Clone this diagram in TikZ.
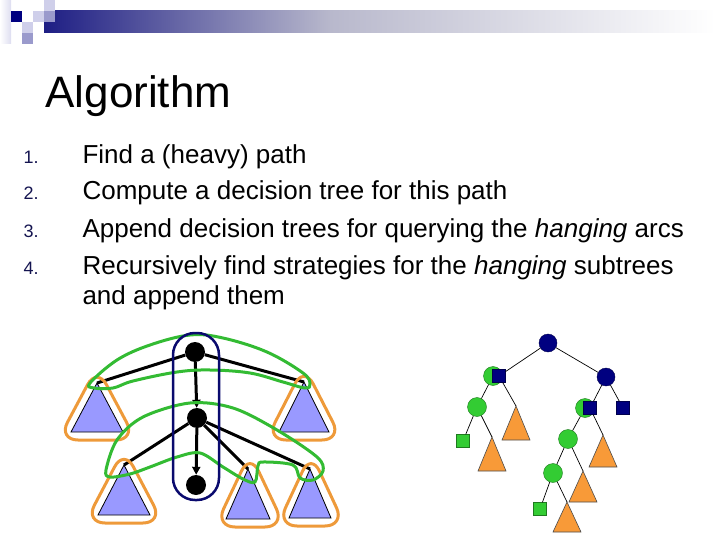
\documentclass[tikz,border=0pt]{standalone}
\usepackage{fontspec}
\setmainfont{Liberation Sans}
\usetikzlibrary{arrows.meta,shapes.geometric,calc}

\definecolor{hdnavy}{HTML}{1E1E84}
\definecolor{hdmid}{HTML}{B8B8CC}
\definecolor{sqnavy}{HTML}{000080}
\definecolor{sqlight}{HTML}{CFCFEA}
\definecolor{sqmid}{HTML}{9A9ACC}
\definecolor{numblue}{HTML}{141450}
\definecolor{lavender}{HTML}{9999FF}
\definecolor{ringorange}{HTML}{EE9A3A}
\definecolor{bandgreen}{HTML}{33BB33}
\definecolor{ringnavy}{HTML}{0A0A6E}
\definecolor{treenavy}{HTML}{000080}
\definecolor{treegreen}{HTML}{33CC33}
\definecolor{treeorange}{HTML}{F89A38}

\tikzset{
  itemtext/.style={anchor=base west, font=\fontsize{26}{30}\selectfont},
  itemnum/.style={anchor=base west, text=numblue, font=\fontsize{18}{20}\selectfont},
  pathnode/.style={circle, fill=black, minimum size=20pt, inner sep=0pt},
  hangedge/.style={line width=3pt},
  pathedge/.style={line width=3pt, -{Triangle[length=8pt,width=8pt]}},
  subtree/.style={fill=lavender, draw=black, line width=0.8pt},
  hangring/.style={draw=ringorange, line width=3pt, rounded corners=20pt},
  band/.style={draw=bandgreen, line width=3pt},
  pathring/.style={draw=ringnavy, line width=2.5pt, rounded corners=22pt},
  dcirc/.style={circle, fill=treenavy, draw=treenavy!60!black, minimum size=18pt, inner sep=0pt},
  gcirc/.style={circle, fill=treegreen, draw=treegreen!60!black, minimum size=19pt, inner sep=0pt},
  dsq/.style={rectangle, fill=treenavy, draw=treenavy!60!black, minimum size=13pt, inner sep=0pt},
  gsq/.style={rectangle, fill=treegreen, draw=treegreen!60!black, minimum size=13pt, inner sep=0pt},
  dedge/.style={line width=0.7pt},
  otri/.style={fill=treeorange, draw=black!70, line width=0.6pt}
}

\begin{document}
\begin{tikzpicture}[x=1pt, y=-1pt]
    \useasboundingbox (0,0) rectangle (720,540);

    % Header bar and squares
    \shade[left color=hdnavy, right color=hdmid] (44,11) rectangle (330,33);
    \shade[left color=hdmid, right color=white] (330,11) rectangle (715,33);
    \shade[left color=white, right color=sqlight!70] (0,0) rectangle (11,44);
    \fill[sqnavy] (11,11) rectangle (22,22);
    \fill[sqlight] (22,22) rectangle (33,33);
    \fill[sqlight] (33,11) rectangle (44,22);
    \fill[sqlight] (44,0) rectangle (55,11);
    \fill[sqmid] (44,11) rectangle (55,22);
    \fill[sqmid] (22,33) rectangle (33,44);

    % Title
    \node[anchor=base west, font=\fontsize{44}{50}\selectfont] (title) at (42,108) {Algorithm};

    % Steps
    \foreach \n/\y/\t in {1/164/{Find a (heavy) path},
                          2/200/{Compute a decision tree for this path},
                          3/237/{Append decision trees for querying the \textit{hanging} arcs},
                          4/274/{Recursively find strategies for the \textit{hanging} subtrees}} {
        \node[itemnum] (num\n) at (20,\y) {\n.};
        \node[itemtext] (item\n) at (79,\y) {\t};
    }
    \node[itemtext] (item5) at (79,304) {and append them};

    % Heavy path and hanging subtrees
    \node[pathnode] (top) at (195,352) {};
    \node[pathnode] (mid) at (197,418) {};
    \node[pathnode] (bot) at (196,485) {};

    \foreach \nm/\ax/\ay/\w/\h in {t1/97/383/26/49, t2/304/382/25/50, t3/124/465/26/50,
                                  t4/248/469/22/50, t5/310/469/21/49} {
        \coordinate (\nm) at (\ax,\ay);
        \filldraw[subtree] (\ax,\ay) -- ({\ax+\w},{\ay+\h}) -- ({\ax-\w},{\ay+\h}) -- cycle;
    }

    \draw[hangedge] (top) -- (t1);
    \draw[hangedge] (top) -- (t2);
    \draw[hangedge] (mid) -- (t3);
    \draw[hangedge] (mid) -- (t4);
    \draw[hangedge] (mid) -- (t5);
    \draw[pathedge] (top) -- (mid);
    \draw[pathedge] (mid) -- (bot);

    % Orange rings round the subtrees
    \foreach \ax/\ay/\w/\h in {97/383/26/49, 304/382/25/50, 124/465/26/50, 250/469/22/50, 311/469/21/49} {
        \draw[hangring] (\ax,{\ay-16}) -- ({\ax+\w+13},{\ay+\h+8}) -- ({\ax-\w-13},{\ay+\h+8}) -- cycle;
    }

    % Green bands round the hanging arcs
    \draw[band] plot[smooth cycle, tension=0.6] coordinates {
        (90,383) (117,360) (150,345) (190,335) (223,338) (267,352) (303,373) (310,384)
        (305,388) (283,382) (250,373) (210,370) (177,372) (133,381) (113,388) (94,388)};
    \draw[band] plot[smooth cycle, tension=0.55] coordinates {
        (106,470) (117,440) (143,417) (190,403) (233,408) (277,430) (317,457) (323,471)
        (313,480) (300,478) (293,465) (263,462) (258,466) (255,482) (243,479) (223,467)
        (200,453) (177,457) (150,467) (130,474) (110,477)};

    % Ring round the heavy path
    \draw[pathring] (173,333) rectangle (219,500);

    % Resulting decision tree
    \node[dcirc] (root) at (548,343) {};
    \node[gcirc] (lg) at (493,376) {};
    \node[dsq] (ls) at (499,376) {};
    \node[dcirc] (rc) at (606,377) {};
    \node[gcirc] (lg2) at (477,407) {};
    \node[gsq] (lsq) at (463,441) {};
    \node[gcirc] (rg) at (585,408) {};
    \node[dsq] (rs) at (590,408) {};
    \node[dsq] (rs2) at (623,408) {};
    \node[gcirc] (g3) at (568,439) {};
    \node[gcirc] (g4) at (553,473) {};
    \node[gsq] (gs2) at (540,509) {};

    \foreach \nm/\ax/\ay/\w/\h in {oa/516/406/14/34, ob/492/437/14/34, oc/603/435/14/32,
                                  od/583/471/14/31, oe/567/502/14/30} {
        \coordinate (\nm) at (\ax,\ay);
        \filldraw[otri] (\ax,\ay) -- ({\ax+\w},{\ay+\h}) -- ({\ax-\w},{\ay+\h}) -- cycle;
    }

    \draw[dedge] (root) -- (ls);
    \draw[dedge] (root) -- (rc);
    \draw[dedge] (lg) -- (lg2);
    \draw[dedge] (ls) -- (oa);
    \draw[dedge] (lg2) -- (lsq);
    \draw[dedge] (lg2) -- (ob);
    \draw[dedge] (rc) -- (rs);
    \draw[dedge] (rc) -- (rs2);
    \draw[dedge] (rg) -- (g3);
    \draw[dedge] (rs) -- (oc);
    \draw[dedge] (g3) -- (g4);
    \draw[dedge] (g3) -- (od);
    \draw[dedge] (g4) -- (gs2);
    \draw[dedge] (g4) -- (oe);
\end{tikzpicture}
\end{document}
